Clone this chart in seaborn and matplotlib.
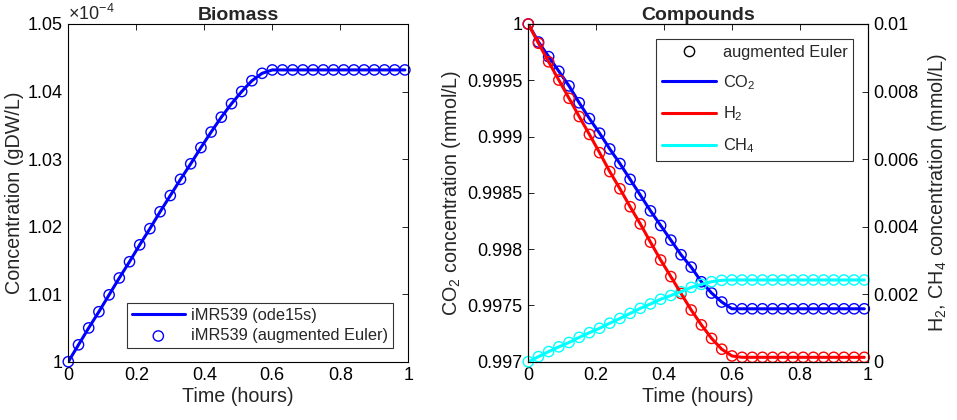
import numpy as np
import matplotlib
matplotlib.use("Agg")
import matplotlib.pyplot as plt
import seaborn as sns
from matplotlib.ticker import FuncFormatter, FixedLocator
from matplotlib.lines import Line2D

# ---- data ----
time = [0.00, 0.03, 0.06, 0.09, 0.12, 0.15, 0.18, 0.21, 0.24, 0.27, 0.30, 0.33,
        0.36, 0.39, 0.42, 0.45, 0.48, 0.51, 0.54, 0.57, 0.60, 0.63, 0.66, 0.69,
        0.72, 0.75, 0.78, 0.81, 0.84, 0.87, 0.90, 0.93, 0.96, 0.99]

biomass = [1.0000e-4, 1.0025e-4, 1.0050e-4, 1.0074e-4, 1.0099e-4, 1.0124e-4,
           1.0148e-4, 1.0173e-4, 1.0197e-4, 1.0222e-4, 1.0246e-4, 1.0270e-4,
           1.0293e-4, 1.0317e-4, 1.0340e-4, 1.0362e-4, 1.0382e-4, 1.0400e-4,
           1.0416e-4, 1.0427e-4, 1.0432e-4, 1.0432e-4, 1.0432e-4, 1.0432e-4,
           1.0432e-4, 1.0432e-4, 1.0432e-4, 1.0432e-4, 1.0432e-4, 1.0432e-4,
           1.0432e-4, 1.0432e-4, 1.0432e-4, 1.0432e-4]

co2 = [1.00000, 0.99984, 0.99971, 0.99958, 0.99945, 0.99930, 0.99916, 0.99903,
       0.99889, 0.99876, 0.99862, 0.99848, 0.99834, 0.99821, 0.99808, 0.99795,
       0.99784, 0.99771, 0.99761, 0.99753, 0.99747, 0.99747, 0.99747, 0.99747,
       0.99747, 0.99747, 0.99747, 0.99747, 0.99747, 0.99747, 0.99747, 0.99747,
       0.99747, 0.99747]

h2 = [0.01000, 0.00943, 0.00888, 0.00834, 0.00780, 0.00726, 0.00673, 0.00619,
      0.00563, 0.00512, 0.00459, 0.00408, 0.00354, 0.00301, 0.00252, 0.00202,
      0.00153, 0.00109, 0.00069, 0.00037, 0.00017, 0.00013, 0.00013, 0.00013,
      0.00013, 0.00013, 0.00013, 0.00013, 0.00013, 0.00013, 0.00013, 0.00013,
      0.00013, 0.00013]

ch4 = [0.00000, 0.00015, 0.00030, 0.00044, 0.00057, 0.00072, 0.00086, 0.00099,
       0.00114, 0.00128, 0.00143, 0.00158, 0.00171, 0.00185, 0.00196, 0.00207,
       0.00220, 0.00229, 0.00237, 0.00241, 0.00242, 0.00242, 0.00242, 0.00242,
       0.00242, 0.00242, 0.00242, 0.00242, 0.00242, 0.00242, 0.00242, 0.00242,
       0.00242, 0.00242]

x_ticks = [0, 0.2, 0.4, 0.6, 0.8, 1]
bio_ticks = [1.00e-4, 1.01e-4, 1.02e-4, 1.03e-4, 1.04e-4, 1.05e-4]
co2_ticks = [0.997, 0.9975, 0.998, 0.9985, 0.999, 0.9995, 1.0]
right_ticks = [0, 0.002, 0.004, 0.006, 0.008, 0.01]

# ---- style ----
sns.set_style("white")
plt.rcParams['font.family'] = ['Liberation Sans', 'DejaVu Sans']
plt.rcParams['mathtext.fontset'] = 'custom'
plt.rcParams['mathtext.rm'] = 'Liberation Sans'
plt.rcParams['mathtext.it'] = 'Liberation Sans'

TICK_FS = 13
LAB_FS = 14.2
TITLE_FS = 14
LEG_FS = 11.8
LW = 2.2
MS = 7.4

fig = plt.figure(figsize=(9.57, 4.20), dpi=100)

def style_axes(ax):
    for s in ax.spines.values():
        s.set_color('black')
        s.set_linewidth(0.8)
    ax.tick_params(direction='in', length=4, width=0.6, colors='black',
                   labelsize=TICK_FS, top=True, pad=4)

def fmt_g(v, p):
    return f"{v:.4g}"

# ---- left: Biomass ----
ax1 = fig.add_axes([68.3/957, 1 - 361.7/420, 340/957, 337.7/420])
sns.lineplot(x=time, y=biomass, ax=ax1, color='#0000ff', lw=LW, label='iMR539 (ode15s)')
sns.scatterplot(x=time, y=biomass, ax=ax1, marker='o', s=MS**2, facecolors='none',
                edgecolor='#0000ff', linewidth=1.0, label='iMR539 (augmented Euler)')
ax1.set_xlim(0, 1)
ax1.set_ylim(1.0e-4, 1.05e-4)
ax1.xaxis.set_major_locator(FixedLocator(x_ticks))
ax1.yaxis.set_major_locator(FixedLocator(bio_ticks))
ax1.xaxis.set_major_formatter(FuncFormatter(fmt_g))
ax1.yaxis.set_major_formatter(FuncFormatter(lambda v, p: f"{v*1e4:.4g}"))
style_axes(ax1)
ax1.tick_params(right=True)
ax1.set_xlabel('Time (hours)', fontsize=LAB_FS, labelpad=2)
ax1.set_ylabel('Concentration (gDW/L)', fontsize=LAB_FS, labelpad=3)
ax1.set_title('Biomass', fontsize=TITLE_FS, fontweight='bold', pad=3)
ax1.text(0.0, 1.0, r'$\times10^{-4}$', transform=ax1.transAxes, fontsize=TICK_FS,
         ha='left', va='bottom')
leg1 = ax1.legend(loc='lower right', bbox_to_anchor=(0.955, 0.04), fontsize=LEG_FS,
                  frameon=True, fancybox=False, edgecolor='black', handlelength=3.2,
                  borderpad=0.3, labelspacing=0.35, handletextpad=0.4,
                  borderaxespad=0.0)
leg1.get_frame().set_linewidth(0.8)

# ---- right: Compounds ----
ax2 = fig.add_axes([528.3/957, 1 - 361.7/420, 339.4/957, 337.7/420])
ax3 = ax2.twinx()
sns.lineplot(x=time, y=co2, ax=ax2, color='#0000ff', lw=LW, legend=False)
sns.scatterplot(x=time, y=co2, ax=ax2, marker='o', s=MS**2, facecolors='none',
                edgecolor='#0000ff', linewidth=1.0, legend=False)
sns.lineplot(x=time, y=h2, ax=ax3, color='#ff0000', lw=LW, legend=False)
sns.scatterplot(x=time, y=h2, ax=ax3, marker='o', s=MS**2, facecolors='none',
                edgecolor='#ff0000', linewidth=1.0, legend=False)
sns.lineplot(x=time, y=ch4, ax=ax3, color='#00ffff', lw=LW, legend=False)
sns.scatterplot(x=time, y=ch4, ax=ax3, marker='o', s=MS**2, facecolors='none',
                edgecolor='#00ffff', linewidth=1.0, legend=False)
for a in (ax2, ax3):
    a.set_xlim(0, 1)
    for c in a.collections:
        c.set_clip_on(False)
ax2.set_ylim(0.997, 1.0)
ax3.set_ylim(0, 0.01)
ax2.xaxis.set_major_locator(FixedLocator(x_ticks))
ax2.xaxis.set_major_formatter(FuncFormatter(fmt_g))
ax2.yaxis.set_major_locator(FixedLocator(co2_ticks))
ax2.yaxis.set_major_formatter(FuncFormatter(fmt_g))
ax3.yaxis.set_major_locator(FixedLocator(right_ticks))
ax3.yaxis.set_major_formatter(FuncFormatter(fmt_g))
style_axes(ax2)
style_axes(ax3)
ax2.tick_params(right=False)
ax3.tick_params(left=False, right=True, labelright=True)
ax2.set_xlabel('Time (hours)', fontsize=LAB_FS, labelpad=2)
ax2.set_ylabel(r'CO$_2$ concentration (mmol/L)', fontsize=LAB_FS, labelpad=3)
ax3.set_ylabel(r'H$_2$, CH$_4$ concentration (mmol/L)', fontsize=LAB_FS, labelpad=5)
ax2.set_title('Compounds', fontsize=TITLE_FS, fontweight='bold', pad=3)

handles = [
    Line2D([], [], ls='none', marker='o', ms=MS, mfc='none', mec='black', mew=1.0),
    Line2D([], [], color='#0000ff', lw=LW),
    Line2D([], [], color='#ff0000', lw=LW),
    Line2D([], [], color='#00ffff', lw=LW),
]
labels = ['augmented Euler', r'CO$_2$', r'H$_2$', r'CH$_4$']
leg2 = ax3.legend(handles, labels, loc='upper right', bbox_to_anchor=(0.957, 0.9556),
                  fontsize=LEG_FS, frameon=True, fancybox=False, edgecolor='black',
                  handlelength=3.3, borderpad=0.35, labelspacing=0.8, handletextpad=0.4,
                  borderaxespad=0.0)
leg2.get_frame().set_linewidth(0.8)

for c in ax1.collections:
    c.set_clip_on(False)

fig.savefig('out.png', dpi=100)
